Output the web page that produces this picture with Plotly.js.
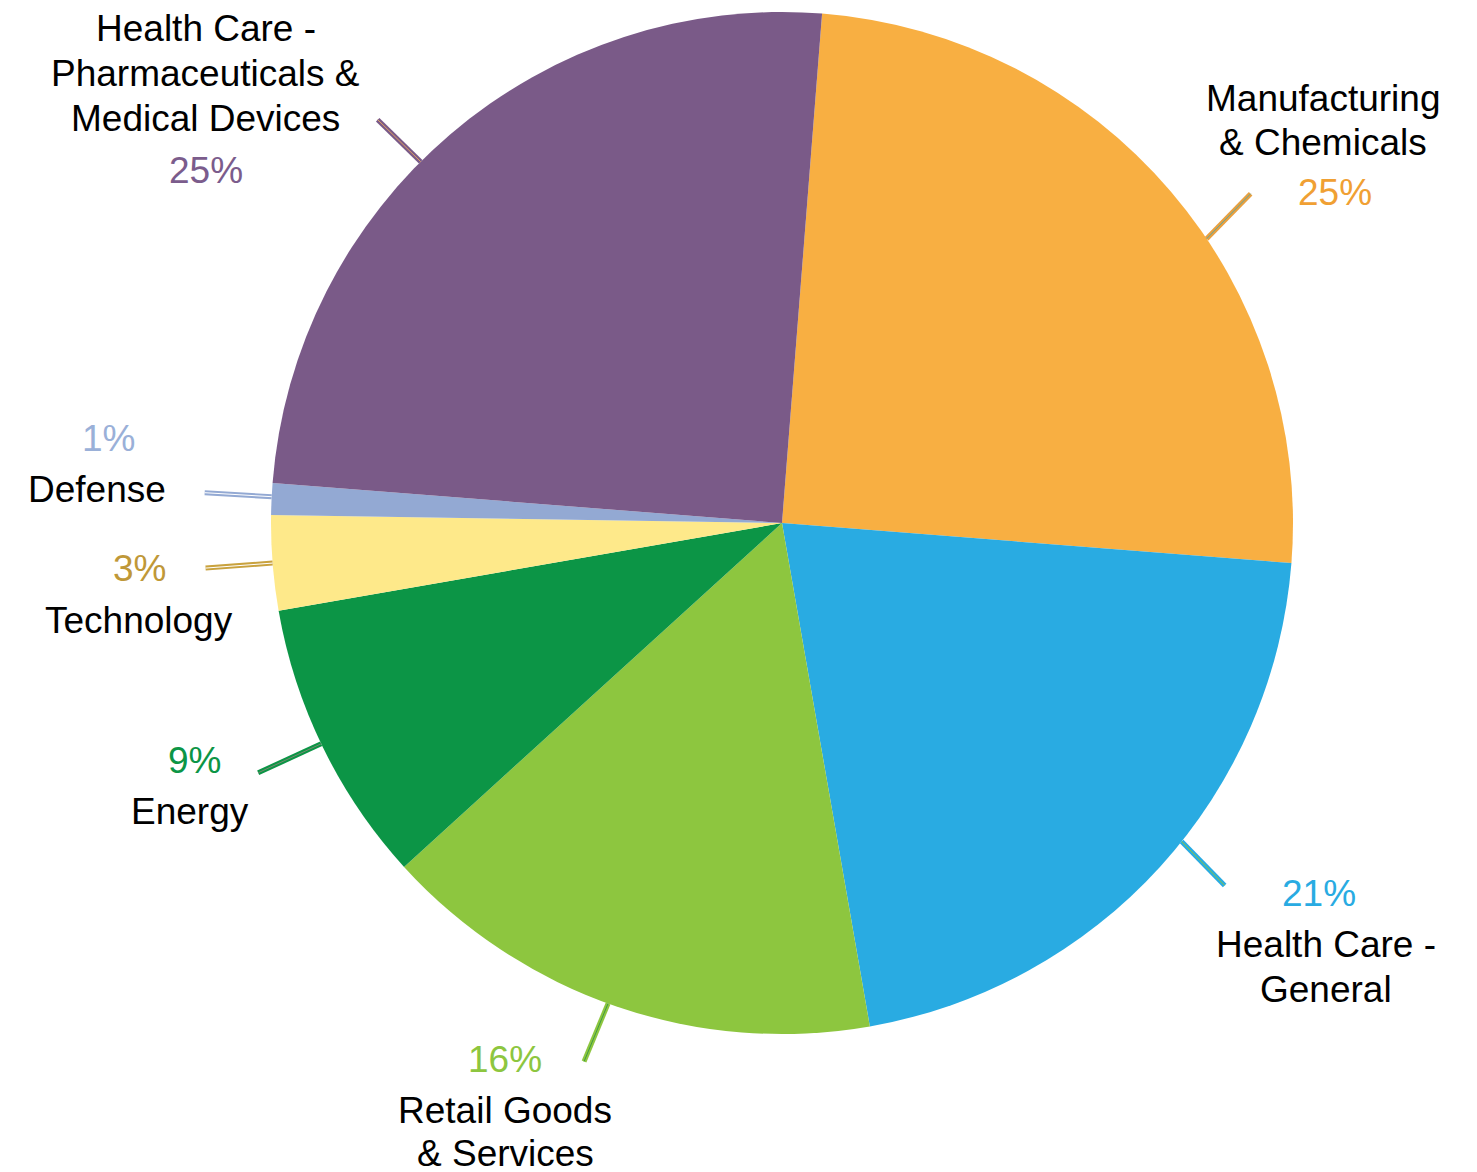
<!DOCTYPE html>
<html>
<head>
<meta charset="utf-8">
<script src="https://cdn.plot.ly/plotly-3.0.1.min.js"></script>
<style>html,body{margin:0;padding:0;background:#fff;}#chart{width:1477px;height:1172px;}</style>
</head>
<body>
<div id="chart"></div>
<script>
// ---- data ----
const categories = ["Manufacturing<br>& Chemicals", "Health Care -<br>General", "Retail Goods<br>& Services", "Energy", "Technology", "Defense", "Health Care -<br>Pharmaceuticals &<br>Medical Devices"];
const shares = [25, 21, 16, 9, 3, 1, 25];
const pctLabels = ["25%", "21%", "16%", "9%", "3%", "1%", "25%"];

// ---- style ----
const sliceColors = ["#F8AF42", "#29ABE2", "#8DC63F", "#0C9546", "#FEE98A", "#93A9D3", "#7A5A88"];
const lineColors  = ["#E8A040", "#29ABE2", "#8DC63F", "#0C9546", "#C9A23E", "#93A9D3", "#7A5A88"];
const pctColors   = ["#F0A033", "#29ABE2", "#8DC63F", "#0C9546", "#BF9838", "#9AB0D8", "#7B5C8C"];
const innerColors = ["#5FA7A0", "#8DC63F", "#3E9A45", "#7A8A70", "#FFFFFF", "#FFFFFF", "#E0A060"];
const W = 1477, H = 1172;
const CX = 782, CY = 523, R = 511;
const startRotation = 4.5;
// leader line: angular shift of its start from the slice middle (deg), and its end offset (px)
const leaderShift = [6.7, -3.75, 1, 0.5, 0, 0.25, -4.5];
const leaderEnd = [[44, -45], [43, 44], [-24, 58], [-63, 29], [-67, 5], [-67, -4], [-43, -42]];
// label layout (pixel centres)
const labelPos = [
  {nx: 1323, ny: 98,  px: 1335, py: 192, gap: 44},
  {nx: 1326, ny: 945, px: 1319, py: 893, gap: 44},
  {nx: 505,  ny: 1110, px: 505, py: 1059, gap: 43.5},
  {nx: 190,  ny: 811, px: 194, py: 760, gap: 44},
  {nx: 139,  ny: 620, px: 139, py: 569, gap: 44},
  {nx: 97,   ny: 489, px: 108, py: 438, gap: 44},
  {nx: 206,  ny: 29,  px: 206, py: 170, gap: 44.5}
];
const FONT = "Liberation Sans, Arial, sans-serif";
const FS = 37;

const total = shares.reduce((a, b) => a + b, 0);
const px = x => x / W, py = y => 1 - y / H;

const annotations = [];
const shapes = [];
let cum = 0;
shares.forEach((v, i) => {
  const mid = startRotation + (cum + v / 2) / total * 360 + leaderShift[i];
  cum += v;
  const th = mid * Math.PI / 180;
  const x0 = CX + R * Math.sin(th), y0 = CY - R * Math.cos(th);
  const x1 = x0 + leaderEnd[i][0], y1 = y0 + leaderEnd[i][1];
  shapes.push({type: "line", xref: "paper", yref: "paper", x0: px(x0), y0: py(y0), x1: px(x1), y1: py(y1),
    line: {color: lineColors[i], width: 5}});
  shapes.push({type: "line", xref: "paper", yref: "paper", x0: px(x0), y0: py(y0), x1: px(x1), y1: py(y1),
    line: {color: innerColors[i], width: 1}});

  const lp = labelPos[i];
  categories[i].split("<br>").forEach((t, k) => {
    annotations.push({xref: "paper", yref: "paper", x: px(lp.nx), y: py(lp.ny + k * lp.gap),
      xanchor: "center", yanchor: "middle", showarrow: false, text: t,
      font: {family: FONT, size: FS, color: "#000000"}});
  });
  annotations.push({xref: "paper", yref: "paper", x: px(lp.px), y: py(lp.py),
    xanchor: "center", yanchor: "middle", showarrow: false, text: pctLabels[i],
    font: {family: FONT, size: FS, color: pctColors[i]}});
});

const trace = {
  type: "pie",
  labels: categories,
  values: shares,
  sort: false,
  direction: "clockwise",
  rotation: startRotation,
  marker: {colors: sliceColors, line: {width: 0}},
  textinfo: "none",
  hoverinfo: "label+percent",
  domain: {x: [(CX - R) / W, (CX + R) / W], y: [1 - (CY + R) / H, 1 - (CY - R) / H]}
};

const layout = {
  width: W, height: H,
  margin: {l: 0, r: 0, t: 0, b: 0},
  showlegend: false,
  paper_bgcolor: "#ffffff",
  plot_bgcolor: "#ffffff",
  annotations: annotations,
  shapes: shapes
};

Plotly.newPlot("chart", [trace], layout, {displayModeBar: false, staticPlot: true});
</script>
</body>
</html>
